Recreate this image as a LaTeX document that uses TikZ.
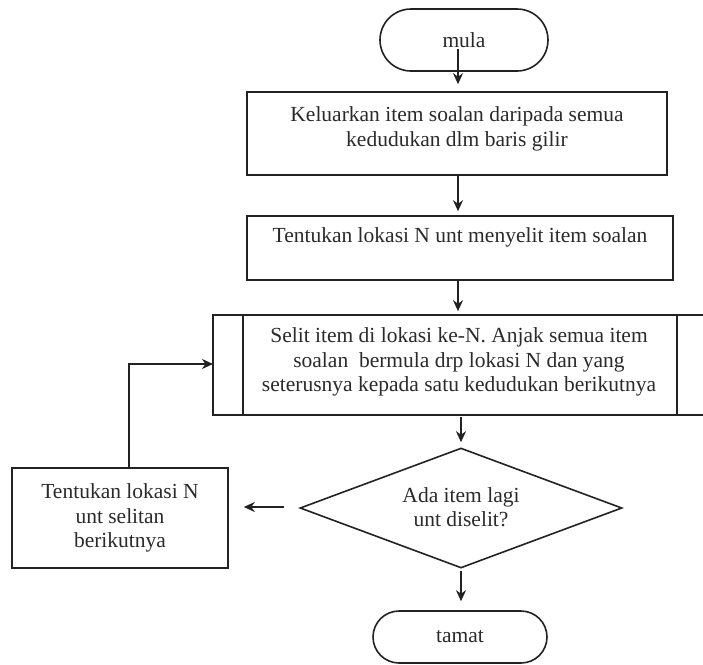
\documentclass[tikz,border=0pt]{standalone}
\usepackage{fontspec}
\setmainfont{Liberation Serif}
\usetikzlibrary{shapes.geometric,arrows.meta,calc}
\definecolor{ink}{HTML}{222222}
\definecolor{txtc}{HTML}{2A2A2A}
\tikzset{
  box/.style={draw=ink, line width=1.6pt, inner sep=0pt, align=center, text=txtc, font=\fontsize{21.5}{24.5}\selectfont},
  term/.style={box},
  txt/.style={inner sep=0pt, align=center, text=txtc, font=\fontsize{21.5}{24.5}\selectfont},
  dec/.style={box, shape=diamond, shape aspect=2.68},
  arr/.style={draw=ink, line width=1.6pt, -{Stealth[length=11pt,width=10pt,inset=3.5pt]}},
  ln/.style={draw=ink, line width=1.6pt, line join=miter}
}
\begin{document}
\begin{tikzpicture}[x=1pt,y=-1pt]
\useasboundingbox (0,0) rectangle (703,664);
\node[term, minimum width=168pt, minimum height=62pt, rounded corners=31pt] (start) at (464,40) {mula};
\node[box, minimum width=420pt, minimum height=83pt] (b1) at (457,133.5) {};
\node[txt] (t1) at (457,129) {Keluarkan item soalan daripada semua\\kedudukan dlm baris gilir};
\node[box, minimum width=426pt, minimum height=64pt] (b2) at (460,248) {};
\node[txt] (t2) at (460,237) {Tentukan lokasi N unt menyelit item soalan};
\draw[ln] (704,315) -- (213,315) -- (213,415) -- (704,415);
\node[box, minimum width=434pt, minimum height=100pt] (b3) at (460,365) {};
\node[txt] (t3) at (459,362) {Selit item di lokasi ke-N. Anjak semua item\\soalan \ bermula drp lokasi N dan yang\\seterusnya kepada satu kedudukan berikutnya};
\coordinate (b3l) at (213,364);
\node[dec, minimum width=322pt, minimum height=120pt] (d) at (461,508) {};
\node[txt] (td) at (461,507) {Ada item lagi\\unt diselit?};
\node[box, minimum width=216pt, minimum height=100pt] (lb) at (120,518) {Tentukan lokasi N\\unt selitan\\berikutnya};
\node[term, minimum width=174pt, minimum height=52pt, rounded corners=26pt] (end) at (460,637) {tamat};

\draw[arr, shorten <=-23pt, shorten >=7pt] ([xshift=-6pt]start.south) -- ([xshift=-6pt]start.south |- b1.north);
\draw[arr, shorten >=4pt] ([xshift=1pt]b1.south) -- ([xshift=1pt]b1.south |- b2.north);
\draw[arr, shorten >=3pt] ([xshift=-2pt]b2.south) -- ([xshift=-2pt]b2.south |- b3.north);
\draw[arr, shorten <=1pt, shorten >=5pt] ([xshift=1pt]b3.south) -- (d.north);
\draw[arr, shorten <=2pt, shorten >=9pt] (d.south) -- (d.south |- end.north);
\draw[arr, shorten <=15pt, shorten >=15pt] ([yshift=1pt]d.west) -- ([yshift=1pt]d.west -| lb.east);
\draw[arr] ([xshift=9pt]lb.north) |- (b3l);
\end{tikzpicture}
\end{document}
